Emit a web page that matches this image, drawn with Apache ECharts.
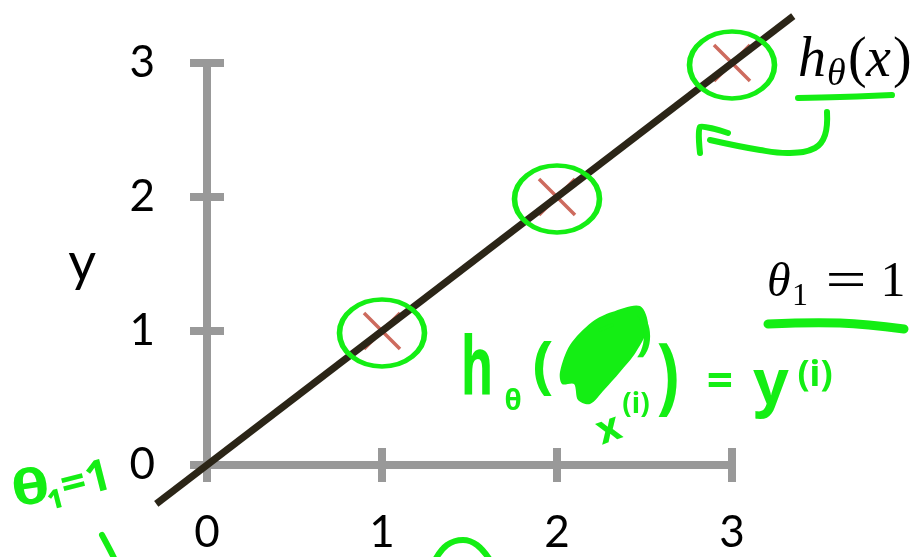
<!DOCTYPE html>
<html>
<head>
<meta charset="utf-8">
<script src="https://cdn.jsdelivr.net/npm/echarts@6/dist/echarts.min.js"></script>
<style>
  html, body { margin: 0; padding: 0; background: #fff; }
  #chart { width: 918px; height: 557px; }
</style>
</head>
<body>
<div id="chart"></div>
<script>
// data
var xTicks = [0, 1, 2, 3];
var yTicks = [0, 1, 2, 3];
var pointX = [1, 2, 3];
var pointY = [1, 2, 3];
var theta1 = 1;
var lineX = [-0.29, 3.35];   // ends of the drawn hypothesis line

var GRAY = '#999999';
var GREEN = '#14ee14';
var INK = '#2b2517';

// plot box of the axes (pixels)
var AX_LEFT = 207, AX_TOP = 63, AX_W = 525, AX_H = 402;
var pxX = AX_W / (xTicks[xTicks.length - 1] - xTicks[0]);
var pxY = AX_H / (yTicks[yTicks.length - 1] - yTicks[0]);

var points = [];
for (var i = 0; i < pointX.length; i++) {
    points.push([pointX[i], pointY[i]]);
}
var hLine = [];
for (var i = 0; i < lineX.length; i++) {
    hLine.push([lineX[i], theta1 * lineX[i]]);
}
var lo = lineX[0], hi = lineX[lineX.length - 1];

var dom = document.getElementById('chart');
var myChart = echarts.init(dom, null, { renderer: 'canvas' });

var tickStyle = { color: GRAY, width: 8 };
var labelStyle = { fontFamily: 'Lato', fontSize: 44, color: '#000' };

function axisPair(dim) {
    var ticks = dim === 'x' ? xTicks : yTicks;
    var base = {
        type: 'value',
        gridIndex: 0,
        min: ticks[0],
        max: ticks[ticks.length - 1],
        interval: ticks[1] - ticks[0],
        position: dim === 'x' ? 'bottom' : 'left',
        splitLine: { show: false }
    };
    // inner half of the crossing ticks + axis line
    var a = Object.assign({}, base, {
        axisLine: { show: true, onZero: false, lineStyle: tickStyle },
        axisTick: { show: true, inside: true, length: 17, lineStyle: tickStyle },
        axisLabel: { show: false }
    });
    // outer half + labels
    var b = Object.assign({}, base, {
        axisLine: { show: false, onZero: false },
        axisTick: { show: true, inside: false, length: 17, lineStyle: tickStyle },
        axisLabel: Object.assign({ margin: dim === 'x' ? 46 : 52 }, labelStyle)
    });
    if (dim === 'y') {
        b.name = 'y';
        b.nameLocation = 'middle';
        b.nameGap = 111;
        b.nameRotate = 0;
        b.nameTextStyle = { fontFamily: 'Lato', fontSize: 54, color: '#000', padding: [14, 0, 0, 0] };
    }
    return [a, b];
}

// hidden axes on a wider grid with the same scale, so the line can run past the axes
function plainAxis(dim) {
    return {
        type: 'value', gridIndex: 1, min: lo, max: hi,
        show: false, splitLine: { show: false }
    };
}

function gtext(txt, x, y, size, opts) {
    opts = opts || {};
    return {
        type: 'text',
        x: x, y: y,
        rotation: opts.rotation || 0,
        scaleX: opts.scaleX || 1,
        scaleY: opts.scaleY || 1,
        z: 10,
        style: {
            text: txt,
            fill: opts.color || GREEN,
            font: (opts.italic ? 'italic ' : '') + (opts.weight || 'normal') + ' ' + size + 'px ' + (opts.family || '"Noto Sans"'),
            align: opts.align || 'center',
            verticalAlign: 'middle'
        }
    };
}

function stroke(pts, w, smooth) {
    return {
        type: 'polyline',
        z: 10,
        shape: { points: pts, smooth: smooth === undefined ? 0.4 : smooth },
        style: { stroke: GREEN, lineWidth: w || 6, lineCap: 'round', lineJoin: 'round', fill: null }
    };
}

var serif = '"Liberation Serif"';

var xAx = axisPair('x'), yAx = axisPair('y');
xAx.push(plainAxis('x'));
yAx.push(plainAxis('y'));

var option = {
    animation: false,
    grid: [
        { left: AX_LEFT, top: AX_TOP, width: AX_W, height: AX_H },
        {
            left: AX_LEFT + lo * pxX,
            top: AX_TOP + (yTicks[yTicks.length - 1] - hi) * pxY,
            width: (hi - lo) * pxX,
            height: (hi - lo) * pxY
        }
    ],
    xAxis: xAx,
    yAxis: yAx,
    series: [
        {
            name: 'training set',
            type: 'scatter',
            xAxisIndex: 2, yAxisIndex: 2,
            data: points,
            symbol: 'path://M0,0L10,10M0,10L10,0',
            symbolSize: 36,
            clip: false,
            itemStyle: { color: 'none', borderColor: '#cd6b5e', borderWidth: 3.5, opacity: 1 },
            z: 2
        },
        {
            name: 'h',
            type: 'line',
            xAxisIndex: 2, yAxisIndex: 2,
            data: hLine,
            symbol: 'none',
            clip: false,
            lineStyle: { color: INK, width: 7 },
            z: 3
        },
        {
            name: 'circled',
            type: 'scatter',
            xAxisIndex: 2, yAxisIndex: 2,
            data: points,
            symbol: 'circle',
            symbolSize: [85, 67],
            symbolOffset: [0, 2],
            clip: false,
            itemStyle: { color: 'rgba(0,0,0,0)', borderColor: GREEN, borderWidth: 5, opacity: 1 },
            z: 4
        }
    ],
    graphic: [
        // h_theta(x) typeset label
        gtext('h', 798, 61, 56, { color: '#000', family: serif, italic: true, align: 'left' }),
        gtext('θ', 827, 75, 38, { color: '#000', family: serif, italic: true, align: 'left' }),
        gtext('(', 848, 61, 56, { color: '#000', family: serif, align: 'left' }),
        gtext('x', 866, 61, 56, { color: '#000', family: serif, italic: true, align: 'left' }),
        gtext(')', 893, 61, 56, { color: '#000', family: serif, align: 'left' }),
        // theta_1 = 1 typeset label
        gtext('θ', 767, 283, 48, { color: '#000', family: serif, italic: true, align: 'left' }),
        gtext('1', 792, 297, 32, { color: '#000', family: serif, align: 'left' }),
        gtext('=', 846, 283, 52, { color: '#000', family: serif, scaleX: 1.4 }),
        gtext('1', 893, 283, 50, { color: '#000', family: serif }),
        // green underlines and arrow
        stroke([[798, 98], [840, 97], [892, 95]], 6),
        stroke([[768, 324], [840, 323], [904, 329]], 9),
        stroke([[827, 112], [825, 135], [815, 148], [790, 153], [760, 150], [710, 140]], 6),
        stroke([[728, 133], [700, 127], [700, 153]], 6, 0.2),
        // handwritten h_theta(x^(i)) = y^(i)
        gtext('h', 477, 372, 80, { weight: 'bold', scaleX: 0.62 }),
        gtext('θ', 513, 402, 28, { weight: 'bold' }),
        gtext('(', 543, 368, 62, { weight: 'bold' }),
        {
            type: 'polygon', z: 10,
            shape: { points: [[560, 372], [570, 345], [592, 322], [612, 312], [640, 306], [648, 326], [636, 352], [620, 372], [604, 390], [590, 404], [578, 400], [574, 384], [562, 384]], smooth: 0.3 },
            style: { fill: GREEN }
        },
        stroke([[600, 330], [612, 325]], 3, 0),
        gtext(')', 644, 336, 48, { weight: 'bold' }),
        gtext(')', 668, 380, 84, { weight: 'bold', scaleX: 0.8 }),
        gtext('x', 609, 430, 40, { weight: 'bold', rotation: 0.35 }),
        gtext('(i)', 636, 405, 28, { weight: 'bold' }),
        gtext('=', 720, 384, 46, { weight: 'bold' }),
        gtext('y', 771, 386, 62, { weight: 'bold' }),
        gtext('(i)', 815, 376, 36, { weight: 'bold' }),
        // handwritten theta_1 = 1 at bottom left
        gtext('θ', 31, 490, 48, { weight: 'bold', scaleX: 1.3, rotation: 0.15 }),
        gtext('₁=1', 78, 484, 44, { weight: 'bold', rotation: 0.25 }),
        // cut-off strokes at bottom edge
        stroke([[102, 535], [110, 550], [115, 560]], 6),
        stroke([[435, 560], [447, 545], [463, 540], [477, 545], [490, 560]], 6)
    ]
};

myChart.setOption(option);
</script>
</body>
</html>
